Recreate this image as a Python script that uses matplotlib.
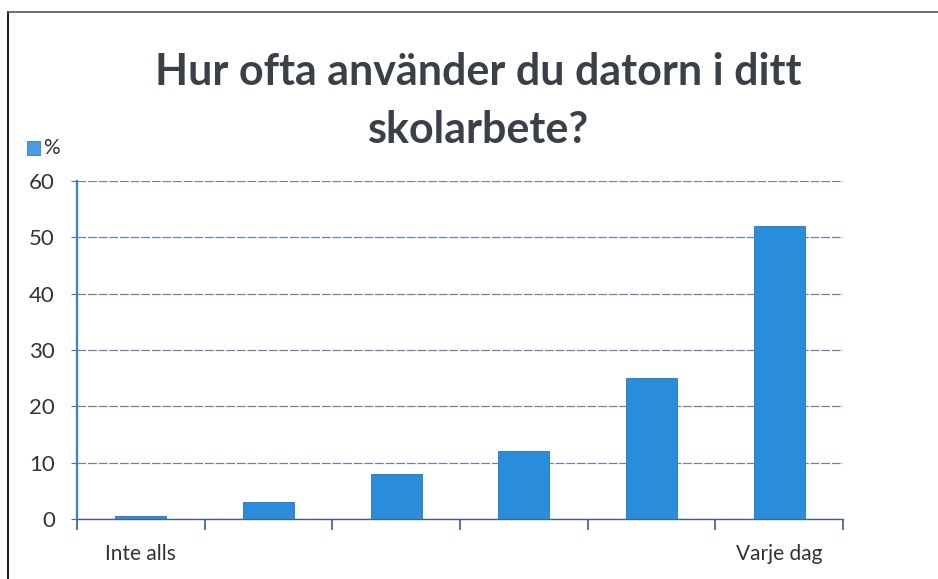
import matplotlib.pyplot as plt
import numpy as np
from matplotlib.patches import Rectangle

categories = ["Inte alls", "", "", "", "", "Varje dag"]
values = [0.5, 3, 8, 12, 25, 52]
series_name = "%"
title_lines = ["Hur ofta använder du datorn i ditt", "skolarbete?"]
yticks = [0, 10, 20, 30, 40, 50, 60]

plt.rcParams["font.family"] = ["Lato", "DejaVu Sans"]

bar_color = "#2a8ddb"
grid_color = "#4f6f96"
axis_color = "#3a7fd0"
text_color = "#333333"

fig = plt.figure(figsize=(9.38, 5.79), dpi=100)
fig.patch.set_facecolor("white")
ax = fig.add_axes([0.0821, 0.1036, 0.8166, 0.5838])

x = np.arange(len(categories)) + 0.5
ax.bar(x, values, width=0.4, color=bar_color, edgecolor="#1f78c0", linewidth=0.6, zorder=3)

ax.set_xlim(0, len(categories))
ax.set_ylim(0, 60)
ax.set_yticks(yticks)
ax.set_yticklabels([str(t) for t in yticks], fontsize=16, color=text_color)
ax.yaxis.grid(True, color=grid_color, linewidth=0.9, linestyle=(0, (7, 1.5)), alpha=0.85, zorder=0)
ax.set_axisbelow(True)

# ticks at category boundaries, labels at category centres
ax.set_xticks(np.arange(len(categories) + 1))
ax.set_xticklabels([])
ax.set_xticks(x, minor=True)
ax.set_xticklabels(categories, minor=True, fontsize=15, color=text_color)
ax.tick_params(axis="x", which="major", length=8, width=1.2, color="#2d5f99", direction="out")
ax.tick_params(axis="x", which="minor", length=0, pad=18)
ax.tick_params(axis="y", length=4, width=0.8, color=grid_color, pad=12)

for s in ["top", "right"]:
    ax.spines[s].set_visible(False)
ax.spines["left"].set_color(axis_color)
ax.spines["left"].set_linewidth(1.6)
ax.spines["bottom"].set_color("#4a5f7a")
ax.spines["bottom"].set_linewidth(1.0)

fig.text(0.51, 1 - 85 / 579, title_lines[0], ha="center", va="baseline", fontsize=31,
         fontweight="bold", color="#3a4048")
fig.text(0.51, 1 - 143 / 579, title_lines[1], ha="center", va="baseline", fontsize=31,
         fontweight="bold", color="#3a4048")

# legend entry top-left
fig.patches.append(Rectangle((27 / 938, 1 - 155 / 579), 13 / 938, 14 / 579,
                             transform=fig.transFigure, facecolor="#4a9be0",
                             edgecolor="#2a7fcf", linewidth=0.6))
fig.text(43 / 938, 1 - 148 / 579, series_name, ha="left", va="center", fontsize=15, color=text_color)

# frame lines of the pasted chart
fig.add_artist(plt.Line2D([8 / 938, 8 / 938], [0, 1 - 12 / 579], transform=fig.transFigure,
                          color="#222222", linewidth=1.5))
fig.add_artist(plt.Line2D([8 / 938, 1], [1 - 12 / 579, 1 - 12 / 579], transform=fig.transFigure,
                          color="#555555", linewidth=1.2))

fig.savefig("out.png", dpi=100)
